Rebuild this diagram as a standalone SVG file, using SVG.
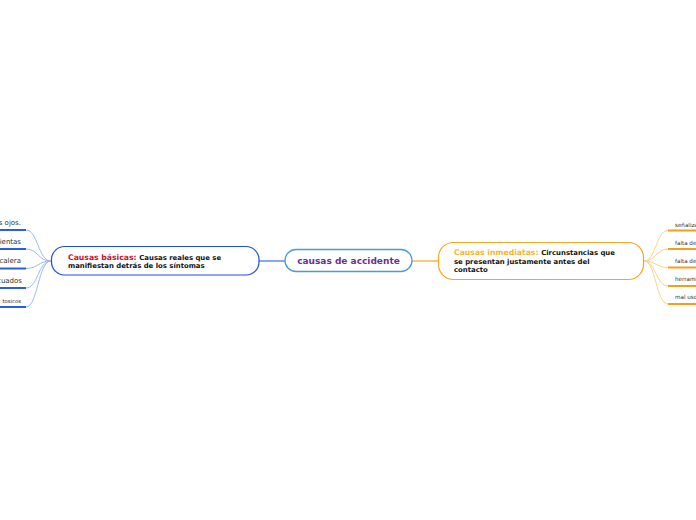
<svg xmlns="http://www.w3.org/2000/svg" width="696" height="520" viewBox="0 0 696 520">
<style>
text{font-family:"DejaVu Sans","Verdana",sans-serif}
.b{font-weight:bold;fill:#111;font-size:6.9px}
.h{font-weight:bold;font-size:7.7px}
.lt{fill:#333;font-size:7px}
.rt{fill:#333;font-size:5.6px}
.lu{stroke:#2b5ce6;stroke-width:2;fill:none}
.lc{stroke:#9db8f5;stroke-width:1;fill:none}
.ru{stroke:#f59e1a;stroke-width:2;fill:none}
.rc{stroke:#fcd28e;stroke-width:1;fill:none}
</style>
<rect width="696" height="520" fill="#ffffff"/>
<g id="connectors">
<line x1="259" y1="261" x2="285" y2="261" stroke="#3b6fe8" stroke-width="1.2"/>
<line x1="412" y1="261" x2="438.5" y2="261" stroke="#f5a623" stroke-width="1.2"/>
<path class="lc" d="M51,261 C38,261 38,230 26,230"/>
<path class="lc" d="M51,261 C38,261 38,249 26,249"/>
<path class="lc" d="M51,261 C38,261 38,268.5 26,268.5"/>
<path class="lc" d="M51,261 C38,261 38,288 26,288"/>
<path class="lc" d="M51,261 C38,261 38,307 26,307"/>
<path class="rc" d="M644,261 C656,261 656,230.5 668,230.5"/>
<path class="rc" d="M644,261 C656,261 656,249 668,249"/>
<path class="rc" d="M644,261 C656,261 656,267.5 668,267.5"/>
<path class="rc" d="M644,261 C656,261 656,286 668,286"/>
<path class="rc" d="M644,261 C656,261 656,304 668,304"/>
</g>
<g id="center">
<rect x="285" y="249.5" width="127" height="22" rx="11" fill="#fff" stroke="#4a9bd8" stroke-width="1.3"/>
<text x="348.5" y="264" text-anchor="middle" font-size="9" font-weight="bold" fill="#6b2f94">causas de accidente</text>
</g>
<g id="basicas">
<rect x="51.5" y="246.5" width="207.5" height="28.5" rx="13" fill="#fff" stroke="#1f4fe0" stroke-width="1.2"/>
<text x="68" y="259.5"><tspan class="h" fill="#c8102e">Causas básicas: </tspan><tspan class="b">Causas reales que se</tspan></text>
<text x="68" y="268" class="b">manifiestan detrás de los síntomas</text>
</g>
<g id="inmediatas">
<rect x="438.5" y="242.5" width="205" height="37" rx="15" fill="#fff" stroke="#f5a623" stroke-width="1.2"/>
<text x="454" y="255"><tspan class="h" fill="#f7b52b">Causas inmediatas: </tspan><tspan class="b">Circunstancias que</tspan></text>
<text x="454" y="263.5" class="b">se presentan justamente antes del</text>
<text x="454" y="272" class="b">contacto</text>
</g>
<g id="left-leaves">
<g id="l1"><text x="21" y="225" class="lt" text-anchor="end">s ojos.</text><line class="lu" x1="0" y1="230" x2="26" y2="230"/></g>
<g id="l2"><text x="21" y="244" class="lt" text-anchor="end">ientas</text><line class="lu" x1="0" y1="249" x2="26" y2="249"/></g>
<g id="l3"><text x="21" y="263" class="lt" text-anchor="end">calera</text><line class="lu" x1="0" y1="268.5" x2="26" y2="268.5"/></g>
<g id="l4"><text x="22" y="283" class="lt" text-anchor="end">cuados</text><line class="lu" x1="0" y1="288" x2="26" y2="288"/></g>
<g id="l5"><text x="21" y="302.5" font-size="5.3" fill="#333" text-anchor="end">tosicos</text><line class="lu" x1="0" y1="307" x2="26" y2="307"/></g>
</g>
<g id="right-leaves">
<g id="r1"><text x="675" y="227" class="rt">señaliza</text><line class="ru" x1="668" y1="230.5" x2="696" y2="230.5"/></g>
<g id="r2"><text x="675" y="244.5" class="rt">falta de</text><line class="ru" x1="668" y1="249" x2="696" y2="249"/></g>
<g id="r3"><text x="675" y="263" class="rt">falta de</text><line class="ru" x1="668" y1="267.5" x2="696" y2="267.5"/></g>
<g id="r4"><text x="675" y="281" class="rt">herrami</text><line class="ru" x1="668" y1="286" x2="696" y2="286"/></g>
<g id="r5"><text x="675" y="299" class="rt">mal uso</text><line class="ru" x1="668" y1="304" x2="696" y2="304"/></g>
</g>
</svg>
